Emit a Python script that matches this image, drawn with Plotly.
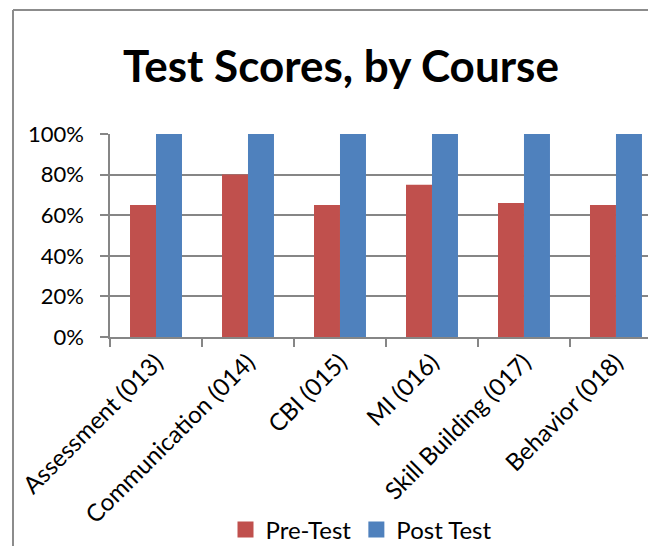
import plotly.graph_objects as go

categories = ["Assessment (013)", "Communication (014)", "CBI (015)", "MI (016)",
              "Skill Building (017)", "Behavior (018)"]
pre_test = [0.65, 0.80, 0.65, 0.75, 0.66, 0.65]
post_test = [1.00, 1.00, 1.00, 1.00, 1.00, 1.00]
series_names = ["Pre-Test", "Post Test"]
series_colors = ["#C0504D", "#4F81BD"]
y_ticks = [0, 0.2, 0.4, 0.6, 0.8, 1.0]
y_tick_labels = ["0%", "20%", "40%", "60%", "80%", "100%"]

FONT = "Lato"
# the page body adds an 8px offset; the figure fills the rest of the window
W, H = 648, 538
L, T, B = 102, 126, 209
PH = H - T - B

fig = go.Figure()
for vals, name, color in zip([pre_test, post_test], series_names, series_colors):
    fig.add_trace(go.Bar(x=categories, y=vals, name=name, legendgroup=name, showlegend=False,
                         marker=dict(color=color, line=dict(width=0))))
# legend entries with larger square swatches
for name, color in zip(series_names, series_colors):
    fig.add_trace(go.Scatter(x=[None], y=[None], mode="markers", name=name, legendgroup=name,
                             marker=dict(symbol="square", size=16, color=color, line=dict(width=0))))

fig.update_layout(
    width=W, height=H,
    margin=dict(l=L, r=0, t=T, b=B, pad=0, autoexpand=False),
    paper_bgcolor="white", plot_bgcolor="white",
    barmode="group", bargap=0.435, bargroupgap=0,
    font=dict(family=FONT, size=22, color="black"),
    title=dict(text="<b>Test Scores, by Course</b>", font=dict(family=FONT, size=44, color="black"),
               x=333 / W, xanchor="center", xref="container",
               y=1 - 59 / H, yanchor="middle", yref="container"),
    legend=dict(orientation="h", x=353 / W, xanchor="center", xref="container",
                y=1 - 522 / H, yanchor="middle", yref="container", itemsizing="trace",
                font=dict(family=FONT, size=24), itemwidth=30, traceorder="normal"),
    showlegend=True,
)
fig.update_xaxes(
    type="category", range=[-0.5, 5.435], tickangle=-45, automargin=False,
    tickson="boundaries", ticks="outside", ticklen=8, tickcolor="#868686", tickwidth=1.5,
    showline=True, linecolor="#868686", linewidth=1.5, showgrid=False,
    tickfont=dict(family=FONT, size=24), fixedrange=True,
)
fig.update_yaxes(
    range=[0, 1.0], tickvals=y_ticks, ticktext=y_tick_labels, automargin=False,
    ticks="outside", ticklen=8, tickcolor="#868686", tickwidth=1.5, ticklabelstandoff=12,
    showline=True, linecolor="#868686", linewidth=1.5,
    showgrid=True, gridcolor="#868686", gridwidth=1.5, zeroline=False,
    tickfont=dict(family=FONT, size=22), fixedrange=True,
)

# outer frame (cropped chart border)
fx = (5 - L) / (W - L)
fy = (H - B - 2) / PH
fig.add_shape(type="line", xref="paper", yref="paper",
              x0=fx, x1=1.2, y0=fy, y1=fy,
              line=dict(color="#8C8C8C", width=2))
fig.add_shape(type="line", xref="paper", yref="paper",
              x0=fx, x1=fx, y0=-1.2, y1=fy,
              line=dict(color="#8C8C8C", width=2))

fig.write_html("out.html")
